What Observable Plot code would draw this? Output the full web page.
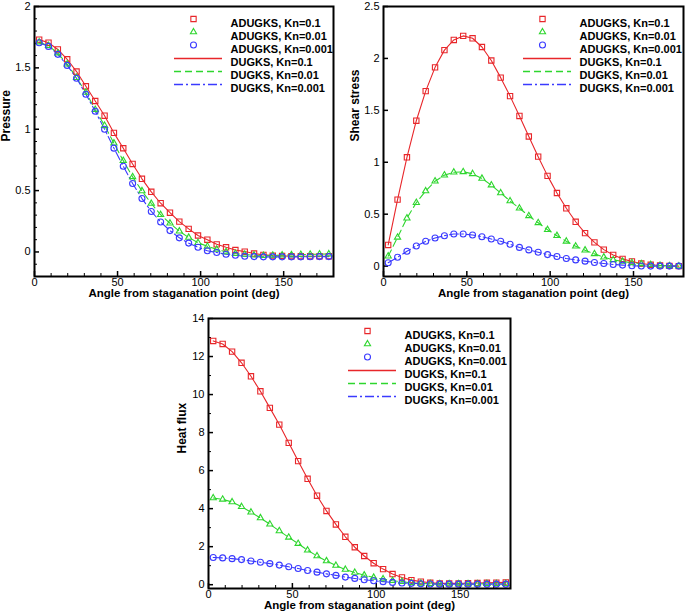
<!DOCTYPE html>
<html>
<head>
<meta charset="utf-8">
<script src="https://cdn.jsdelivr.net/npm/d3@7"></script>
<script src="https://cdn.jsdelivr.net/npm/@observablehq/plot@0.6"></script>
<style>
  html, body { margin: 0; padding: 0; background: #fff; }
  #root { position: relative; width: 685px; height: 615px; font-family: "Liberation Sans", Arial, sans-serif; }
  .panel { position: absolute; }
  .panel svg { overflow: visible; }
</style>
</head>
<body>
<div id="root"></div>
<script>
// ---------- data ----------
const angles = [2.8125, 8.4375, 14.0625, 19.6875, 25.3125, 30.9375, 36.5625, 42.1875, 47.8125, 53.4375,
  59.0625, 64.6875, 70.3125, 75.9375, 81.5625, 87.1875, 92.8125, 98.4375, 104.0625, 109.6875,
  115.3125, 120.9375, 126.5625, 132.1875, 137.8125, 143.4375, 149.0625, 154.6875, 160.3125, 165.9375,
  171.5625, 177.1875];

const pressureKn01 = [1.73,1.705,1.65,1.57,1.47,1.35,1.23,1.11,0.97,0.845,0.717,0.596,0.49,0.397,0.32,0.247,0.188,0.134,0.10,0.062,0.038,0.016,0.003,-0.013,-0.024,-0.03,-0.032,-0.035,-0.035,-0.035,-0.035,-0.035];
const pressureKn001 = [1.71,1.68,1.62,1.53,1.42,1.30,1.16,1.03,0.886,0.744,0.612,0.497,0.395,0.303,0.234,0.169,0.118,0.075,0.046,0.021,0,-0.013,-0.02,-0.027,-0.03,-0.028,-0.026,-0.024,-0.022,-0.02,-0.018,-0.017];
const pressureKn0001 = [1.705,1.675,1.61,1.52,1.415,1.285,1.146,1.00,0.846,0.698,0.558,0.435,0.33,0.244,0.174,0.115,0.072,0.038,0.01,-0.005,-0.019,-0.027,-0.035,-0.038,-0.04,-0.04,-0.04,-0.04,-0.04,-0.039,-0.038,-0.038];

const shearKn01 = [0.204,0.64,1.048,1.40,1.685,1.914,2.08,2.178,2.217,2.194,2.11,1.98,1.815,1.637,1.446,1.248,1.054,0.869,0.704,0.557,0.427,0.318,0.229,0.159,0.108,0.07,0.045,0.025,0.013,0.006,0.002,0];
const shearKn001 = [0.096,0.277,0.462,0.611,0.723,0.818,0.876,0.904,0.908,0.889,0.844,0.78,0.704,0.627,0.557,0.484,0.417,0.35,0.293,0.239,0.191,0.153,0.118,0.086,0.06,0.045,0.032,0.022,0.013,0.006,0.003,0];
const shearKn0001 = [0.032,0.086,0.143,0.194,0.239,0.271,0.293,0.309,0.309,0.30,0.283,0.261,0.239,0.21,0.18,0.156,0.134,0.111,0.092,0.073,0.06,0.048,0.035,0.025,0.016,0.01,0.003,0.001,0,0,0,0];

const heatKn01 = [12.82,12.66,12.26,11.67,10.96,10.17,9.30,8.42,7.46,6.50,5.57,4.68,3.88,3.17,2.52,1.97,1.51,1.13,0.82,0.56,0.38,0.24,0.16,0.10,0.07,0.07,0.07,0.08,0.09,0.10,0.11,0.12];
const heatKn001 = [4.56,4.49,4.35,4.10,3.81,3.51,3.18,2.83,2.49,2.16,1.81,1.51,1.25,1.01,0.80,0.64,0.50,0.38,0.30,0.21,0.16,0.10,0.07,0.05,0.04,0.04,0.04,0.04,0.04,0.05,0.05,0.05];
const heatKn0001 = [1.43,1.41,1.37,1.32,1.25,1.18,1.11,1.03,0.94,0.85,0.75,0.66,0.57,0.49,0.40,0.33,0.26,0.21,0.16,0.12,0.09,0.07,0.05,0.04,0.03,0.03,0.03,0.03,0.03,0.03,0.03,0.03];

const markerLabels = ["ADUGKS, Kn=0.1", "ADUGKS, Kn=0.01", "ADUGKS, Kn=0.001"];
const lineLabels = ["DUGKS, Kn=0.1", "DUGKS, Kn=0.01", "DUGKS, Kn=0.001"];
const xLabel = "Angle from staganation point (deg)";

const xMajorTicks = [0, 50, 100, 150];
const xMinorTicks = [10,20,30,40,60,70,80,90,110,120,130,140,160,170];

const pressureTicks = [0, 0.5, 1, 1.5, 2];
const pressureMinor = [-0.1,0.1,0.2,0.3,0.4,0.6,0.7,0.8,0.9,1.1,1.2,1.3,1.4,1.6,1.7,1.8,1.9];
const shearTicks = [0, 0.5, 1, 1.5, 2, 2.5];
const shearMinor = [];
const heatTicks = [0, 2, 4, 6, 8, 10, 12, 14];
const heatMinor = [1, 3, 5, 7, 9, 11, 13];

// ---------- styles ----------
const colors = ["#e8262a", "#2ed62e", "#3a3aff"];
const symbols = ["square", "triangle", "circle"];
const symbolR = [3, 2.3, 3];
const dashes = [null, "7,4", "9,3,2,3"];
const FONT = '"Liberation Sans", Arial, sans-serif';

function panel({left, top, width, height, margin, yDomain, yTicks, yMinor, yLabel, yLabelDx, xLabelDy, series}) {
  const plotW = width - margin.left - margin.right;
  const plotH = height - margin.top - margin.bottom;
  const rows = series.map((vals, s) => angles.map((a, i) => ({a, v: vals[i], s})));
  const marks = [];
  marks.push(Plot.tickY(yTicks, {y: d => d, insetRight: plotW - 5, stroke: "#000", strokeWidth: 1.5}));
  marks.push(Plot.tickY(yMinor, {y: d => d, insetRight: plotW - 3, stroke: "#000", strokeWidth: 1}));
  marks.push(Plot.tickX(xMajorTicks, {x: d => d, insetTop: plotH - 5, stroke: "#000", strokeWidth: 1.5}));
  marks.push(Plot.tickX(xMinorTicks, {x: d => d, insetTop: plotH - 3, stroke: "#000", strokeWidth: 1}));
  rows.forEach((r, s) => {
    marks.push(Plot.line(r, {x: "a", y: "v", stroke: colors[s], strokeWidth: 1.1, strokeDasharray: dashes[s]}));
  });
  rows.forEach((r, s) => {
    marks.push(Plot.dot(r, {x: "a", y: "v", symbol: () => symbols[s], r: symbolR[s], stroke: colors[s], strokeWidth: 1.1, fill: "none"}));
  });
  marks.push(Plot.frame({stroke: "#000", strokeWidth: 2}));
  marks.push(Plot.axisX(xMajorTicks, {tickSize: 0, tickPadding: 2, fontSize: 11, label: null, tickFormat: d => String(d)}));
  marks.push(Plot.axisY(yTicks, {tickSize: 0, tickPadding: 4, fontSize: 11, label: null, tickFormat: d => String(d)}));
  marks.push(Plot.text([xLabel], {text: d => d, frameAnchor: "bottom", dy: xLabelDy, fontSize: 11.5, fontWeight: "bold", fill: "#000"}));
  marks.push(Plot.text([yLabel], {text: d => d, frameAnchor: "left", dx: yLabelDx, rotate: -90, fontSize: 12, fontWeight: "bold", fill: "#000"}));
  const rowY = k => 12.5 + 13 * k;
  markerLabels.forEach((lab, s) => {
    marks.push(Plot.dot([lab], {frameAnchor: "top-left", dx: 159, dy: rowY(s), symbol: () => symbols[s], r: symbolR[s], stroke: colors[s], strokeWidth: 1.1, fill: "none"}));
    marks.push(Plot.text([lab], {text: d => d, frameAnchor: "top-left", dx: 196, dy: rowY(s), textAnchor: "start", fontSize: 11, fontWeight: "bold", fill: "#000"}));
  });
  lineLabels.forEach((lab, s) => {
    marks.push(Plot.text([lab], {text: d => d, frameAnchor: "top-left", dx: 196, dy: rowY(s + 3), textAnchor: "start", fontSize: 11, fontWeight: "bold", fill: "#000"}));
  });

  const chart = Plot.plot({
    width, height,
    marginLeft: margin.left, marginRight: margin.right, marginTop: margin.top, marginBottom: margin.bottom,
    style: {fontFamily: FONT, color: "#000", background: "transparent", overflow: "visible"},
    x: {domain: [0, 180], axis: null},
    y: {domain: yDomain, axis: null},
    marks
  });
  const svg = d3.select(chart);
  lineLabels.forEach((lab, s) => {
    const y = Math.round(margin.top + rowY(s + 3)) + 0.5;
    const ln = svg.append("path")
      .attr("d", `M${margin.left + 140},${y}H${margin.left + 188}`)
      .style("stroke", colors[s]).style("stroke-width", "1.3px").style("fill", "none");
    if (dashes[s]) ln.style("stroke-dasharray", dashes[s]);
  });
  const div = document.createElement("div");
  div.className = "panel";
  div.style.left = left + "px";
  div.style.top = top + "px";
  div.appendChild(chart);
  document.getElementById("root").appendChild(div);
}

panel({left: 0, top: 0, width: 340, height: 300, margin: {left: 34, right: 7, top: 6, bottom: 24},
  yDomain: [-0.2, 2], yTicks: pressureTicks, yMinor: pressureMinor, yLabel: "Pressure", yLabelDx: -28, xLabelDy: 20.5,
  series: [pressureKn01, pressureKn001, pressureKn0001]});

panel({left: 340, top: 0, width: 345, height: 300, margin: {left: 43, right: 2, top: 6, bottom: 24},
  yDomain: [-0.1, 2.5], yTicks: shearTicks, yMinor: shearMinor, yLabel: "Shear stress", yLabelDx: -28, xLabelDy: 20.5,
  series: [shearKn01, shearKn001, shearKn0001]});

panel({left: 170, top: 300, width: 350, height: 315, margin: {left: 38, right: 10, top: 18, bottom: 27},
  yDomain: [-0.2, 14], yTicks: heatTicks, yMinor: heatMinor, yLabel: "Heat flux", yLabelDx: -26, xLabelDy: 20.5,
  series: [heatKn01, heatKn001, heatKn0001]});
</script>
</body>
</html>
